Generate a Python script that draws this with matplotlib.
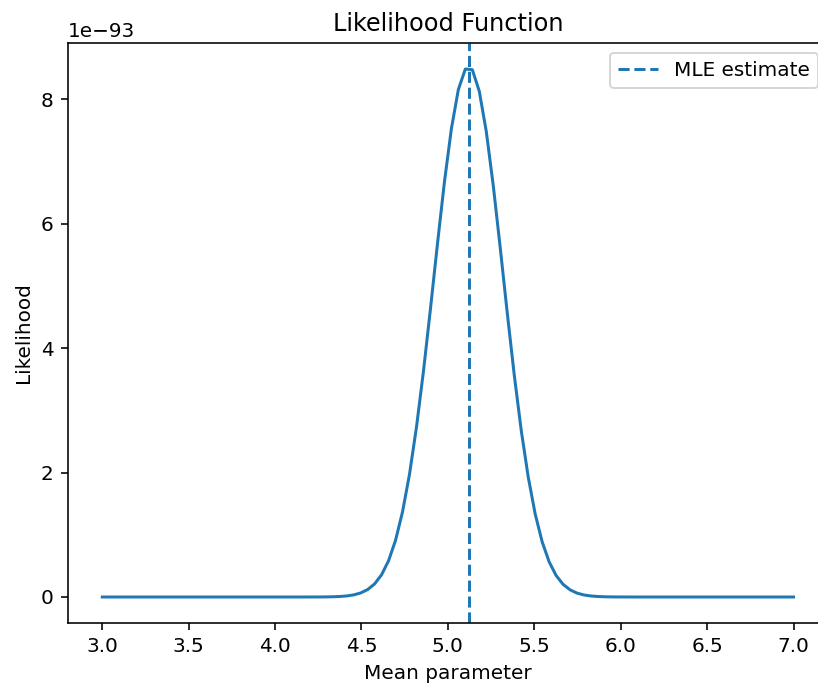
import matplotlib
matplotlib.use("Agg")
import matplotlib.pyplot as plt
import numpy as np

# Grid of candidate means (100 evenly spaced points on [3, 7])
mu_grid = np.linspace(3.0, 7.0, 100)

# Likelihood at each grid point, in units of 1e-93
likelihood_e93 = [
    0.0, 0.0, 0.0, 0.0, 0.0, 0.0, 0.0, 0.0, 0.0, 0.0,
    0.0, 0.0, 0.0, 0.0, 0.0, 0.0, 0.0, 0.0, 0.0, 0.0,
    0.0, 0.0, 0.0, 0.0, 0.0, 0.0, 0.0, 0.0, 0.00004, 0.0001,
    0.0003, 0.0007, 0.0016, 0.0037, 0.0081, 0.0168, 0.0336, 0.0645, 0.119, 0.210,
    0.357, 0.582, 0.910, 1.367, 1.971, 2.729, 3.627, 4.627, 5.668, 6.664,
    7.522, 8.153, 8.482, 8.471, 8.123, 7.477, 6.608, 5.606, 4.566, 3.570,
    2.680, 1.931, 1.335, 0.887, 0.565, 0.346, 0.203, 0.115, 0.0621, 0.0323,
    0.0161, 0.0077, 0.0035, 0.0016, 0.0007, 0.0003, 0.0001, 0.00004, 0.0, 0.0,
    0.0, 0.0, 0.0, 0.0, 0.0, 0.0, 0.0, 0.0, 0.0, 0.0,
    0.0, 0.0, 0.0, 0.0, 0.0, 0.0, 0.0, 0.0, 0.0, 0.0,
]
likelihood = np.array(likelihood_e93) * 1e-93

mle = 5.12

dpi = 144
fig = plt.figure(figsize=(818 / dpi, 684 / dpi), dpi=dpi)
ax = fig.add_axes([0.0828, 0.0886, 0.9295, 0.8491])

ax.plot(mu_grid, likelihood)
ax.axvline(mle, linestyle='--', label='MLE estimate')

ax.set_title('Likelihood Function')
ax.set_xlabel('Mean parameter')
ax.set_ylabel('Likelihood')
ax.legend(loc='upper right')

fig.savefig('out.png', dpi=dpi)
plt.close(fig)
